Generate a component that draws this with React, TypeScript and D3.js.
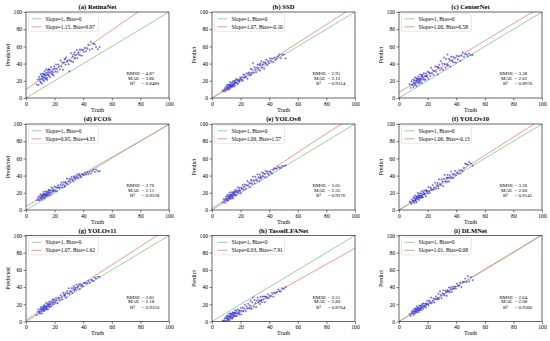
import React, { useEffect, useRef } from "react";
import * as d3 from "d3";

// shared ground-truth counts (same test images for every model)
const truth = [
  7.5, 8.2, 8.8, 9.1, 9.5, 9.9, 10.2, 10.4, 10.7, 10.9,
  11.1, 11.3, 11.5, 11.8, 12.0, 12.2, 12.4, 12.6, 12.9, 13.1,
  13.3, 13.5, 13.8, 14.0, 14.2, 14.5, 14.7, 14.9, 15.2, 15.4,
  15.7, 15.9, 16.2, 16.5, 16.8, 17.1, 17.4, 17.8, 18.1, 18.5,
  18.9, 19.3, 19.7, 20.1, 20.6, 21.0, 21.5, 22.0, 22.5, 23.0,
  23.6, 24.2, 24.8, 25.3, 25.9, 26.5, 27.0, 27.6, 28.1, 28.7,
  29.2, 29.8, 30.3, 30.9, 31.4, 31.9, 32.5, 33.0, 33.5, 34.0,
  34.5, 35.0, 35.5, 36.0, 36.5, 37.0, 37.5, 38.0, 38.6, 39.2,
  39.8, 40.5, 41.2, 42.0, 42.8, 43.6, 44.5, 45.4, 46.3, 47.2,
  48.1, 49.0, 50.2, 51.5, 12.7, 14.3, 16.0, 19.0, 27.3, 33.8,
];

const predRetinaNet = [
  15.6, 21.4, 15.1, 24.5, 21.9, 19.4, 27.7, 18.0, 22.3, 25.5,
  16.8, 25.0, 28.2, 22.6, 20.8, 28.0, 24.3, 19.5, 26.8, 31.1,
  23.3, 26.5, 21.9, 29.1, 33.3, 23.7, 26.9, 21.1, 29.5, 31.7,
  27.0, 33.3, 25.6, 30.0, 24.3, 32.6, 36.0, 28.4, 30.8, 27.2,
  33.7, 26.2, 36.6, 34.1, 30.7, 39.1, 33.7, 30.3, 38.8, 36.4,
  33.1, 43.8, 36.5, 41.1, 32.8, 41.5, 45.0, 38.7, 47.3, 42.0,
  43.6, 39.2, 31.0, 43.5, 52.1, 42.7, 48.4, 41.9, 50.5, 53.1,
  46.6, 50.2, 55.8, 46.4, 53.0, 50.5, 56.1, 49.7, 56.4, 49.1,
  55.8, 53.6, 58.4, 54.3, 57.2, 62.1, 56.2, 65.2, 57.2, 63.3,
  62.3, 59.3, 56.7, 59.2, 27.6, 22.4, 33.4, 29.8, 45.4, 45.9,
];
const predSSD = [
  8.9, 7.7, 11.3, 9.6, 8.1, 13.5, 11.8, 10.0, 15.3, 11.6,
  9.8, 13.0, 15.2, 11.5, 14.7, 10.0, 13.2, 18.4, 14.7, 11.9,
  16.1, 13.3, 14.7, 17.9, 13.1, 16.4, 19.6, 14.8, 16.2, 13.4,
  18.7, 17.9, 15.2, 20.6, 17.9, 22.2, 17.5, 20.9, 16.3, 20.7,
  20.1, 18.6, 24.0, 22.4, 21.0, 24.4, 19.9, 27.4, 24.0, 26.5,
  24.2, 28.8, 22.4, 28.0, 29.6, 26.3, 33.8, 29.4, 33.0, 40.6,
  29.1, 35.8, 33.3, 30.0, 35.5, 39.0, 33.7, 38.2, 31.7, 38.3,
  42.8, 35.4, 38.9, 41.4, 34.0, 41.5, 40.0, 44.6, 38.2, 42.8,
  40.5, 46.2, 43.0, 45.8, 41.7, 46.6, 44.5, 46.5, 48.4, 50.4,
  46.4, 50.3, 50.6, 46.0, 15.5, 14.2, 20.0, 21.2, 27.1, 40.1,
];
const predCenterNet = [
  16.1, 11.8, 19.4, 15.7, 15.1, 21.5, 12.8, 18.0, 20.3, 15.5,
  17.7, 23.9, 15.1, 20.4, 17.6, 22.8, 14.0, 20.2, 22.5, 19.7,
  17.9, 25.1, 21.4, 16.6, 22.8, 21.1, 27.3, 18.5, 22.8, 21.0,
  25.3, 17.5, 24.8, 27.1, 21.4, 23.7, 29.0, 21.4, 25.7, 21.1,
  28.5, 25.9, 24.3, 30.7, 22.2, 29.6, 29.1, 25.6, 35.1, 28.6,
  32.2, 26.8, 31.4, 36.9, 30.5, 36.1, 27.6, 35.2, 38.7, 32.3,
  42.8, 34.4, 39.9, 32.5, 47.0, 39.5, 35.1, 45.6, 39.1, 50.6,
  38.1, 45.6, 44.1, 36.6, 48.1, 43.6, 42.1, 47.6, 41.2, 46.8,
  41.4, 49.1, 44.8, 48.6, 43.4, 49.2, 53.1, 48.0, 50.9, 50.8,
  48.7, 51.6, 49.8, 50.1, 22.3, 18.9, 26.6, 25.6, 35.9, 37.4,
];
const predFCOS = [
  11.4, 14.1, 11.7, 16.0, 11.3, 14.7, 18.0, 13.2, 14.5, 16.7,
  11.8, 16.0, 18.2, 15.5, 13.7, 17.9, 21.1, 15.3, 17.6, 13.7,
  18.9, 17.1, 21.4, 15.6, 18.8, 21.1, 17.3, 18.5, 20.7, 16.9,
  23.2, 20.4, 18.7, 23.0, 17.3, 20.5, 22.8, 26.2, 19.5, 22.9,
  25.3, 21.6, 23.0, 27.4, 21.9, 26.3, 21.7, 26.2, 28.7, 26.2,
  25.7, 29.3, 31.9, 26.3, 29.9, 32.5, 27.0, 32.5, 31.0, 36.6,
  30.0, 33.6, 36.1, 32.7, 36.1, 38.6, 35.2, 33.7, 39.1, 37.6,
  36.1, 39.6, 38.0, 41.5, 37.0, 40.5, 41.9, 39.4, 38.0, 41.5,
  41.1, 40.8, 43.4, 41.2, 44.0, 41.7, 44.6, 42.4, 45.3, 47.1,
  44.0, 46.9, 45.0, 45.2, 18.4, 16.9, 22.5, 22.4, 28.2, 37.4,
];
const predYOLOv8 = [
  8.8, 12.5, 11.2, 8.5, 13.0, 15.4, 10.7, 12.9, 17.3, 12.5,
  15.7, 10.9, 15.1, 14.5, 17.7, 12.9, 20.1, 14.3, 15.7, 17.9,
  13.1, 17.3, 20.6, 14.9, 17.1, 19.4, 13.6, 20.8, 19.2, 17.4,
  18.7, 21.9, 17.3, 23.6, 20.9, 17.2, 22.6, 21.0, 26.3, 19.8,
  23.2, 25.6, 22.1, 19.5, 26.0, 24.5, 29.0, 23.6, 27.1, 29.7,
  24.3, 29.0, 33.6, 28.2, 31.8, 26.5, 31.0, 34.7, 30.2, 38.9,
  34.4, 31.1, 38.6, 35.3, 33.8, 41.4, 38.0, 33.6, 41.1, 38.7,
  37.2, 43.8, 39.3, 42.8, 38.4, 41.9, 45.5, 38.0, 44.7, 42.3,
  41.0, 44.7, 43.5, 42.4, 46.3, 48.1, 48.1, 48.1, 50.1, 49.1,
  49.0, 51.0, 51.3, 51.7, 16.4, 16.2, 21.0, 22.3, 34.4, 36.4,
];
const predYOLOv10 = [
  9.9, 8.6, 7.2, 12.5, 11.0, 9.4, 14.7, 10.9, 8.2, 13.5,
  16.7, 10.9, 13.1, 10.4, 15.6, 12.8, 9.0, 15.3, 14.6, 19.8,
  13.0, 17.2, 14.5, 11.7, 17.0, 19.3, 14.5, 16.7, 14.0, 19.2,
  16.5, 21.8, 15.1, 18.4, 14.7, 20.0, 22.3, 17.8, 19.1, 22.5,
  15.9, 22.4, 21.8, 19.2, 26.7, 22.2, 19.7, 26.2, 24.7, 23.3,
  28.9, 23.6, 26.2, 31.7, 24.4, 29.0, 31.5, 25.2, 35.7, 30.3,
  28.9, 35.5, 33.0, 27.7, 36.2, 40.7, 33.4, 36.9, 32.4, 40.9,
  37.5, 33.0, 40.5, 38.1, 44.6, 37.1, 41.6, 37.2, 41.8, 45.5,
  40.1, 43.8, 42.6, 46.4, 42.3, 46.1, 45.1, 49.0, 54.0, 52.9,
  52.9, 55.8, 54.1, 51.5, 15.4, 15.1, 14.9, 23.0, 27.8, 37.7,
];
const predYOLOv11 = [
  7.6, 11.4, 14.0, 10.3, 11.8, 9.2, 14.5, 16.7, 12.0, 14.3,
  9.5, 15.7, 13.9, 17.2, 12.4, 15.7, 13.9, 19.1, 12.4, 15.6,
  17.8, 14.0, 17.4, 21.6, 15.8, 14.1, 19.3, 17.5, 20.9, 14.1,
  19.4, 17.6, 22.9, 17.3, 21.6, 19.9, 17.2, 23.6, 22.0, 19.4,
  25.8, 22.3, 20.7, 25.1, 22.7, 27.1, 24.6, 21.1, 27.7, 27.2,
  24.9, 30.5, 28.1, 25.7, 33.3, 31.0, 29.5, 33.1, 27.7, 35.3,
  32.8, 38.5, 32.0, 35.7, 34.2, 38.7, 33.4, 38.9, 41.4, 37.0,
  39.5, 37.1, 42.6, 39.1, 40.7, 43.2, 37.7, 43.3, 40.9, 42.5,
  41.2, 44.9, 44.7, 44.5, 44.4, 47.3, 45.2, 48.2, 48.1, 47.1,
  51.1, 50.0, 52.3, 51.7, 17.2, 15.9, 19.7, 24.9, 30.8, 35.8,
];
const predTasselLFANet = [
  1.1, 0.7, 3.3, 0.6, 4.9, 0.3, 3.6, 6.8, 3.1, 5.2,
  1.4, 6.6, 2.8, 5.1, 9.3, 1.4, 6.6, 4.8, 9.1, 3.3,
  6.5, 8.7, 4.9, 8.1, 3.3, 10.6, 6.8, 5.0, 10.2, 8.4,
  6.7, 9.9, 13.2, 6.4, 9.7, 12.0, 6.3, 9.7, 13.9, 9.3,
  12.7, 8.0, 12.4, 15.8, 8.3, 12.6, 16.1, 11.6, 15.0, 19.5,
  12.0, 17.6, 15.2, 20.6, 15.2, 18.7, 24.2, 14.8, 22.2, 27.8,
  17.3, 24.8, 21.3, 16.8, 24.3, 27.8, 22.3, 24.8, 20.3, 28.7,
  25.2, 22.6, 29.1, 25.6, 29.0, 22.5, 29.0, 28.4, 27.0, 31.6,
  27.1, 29.8, 29.4, 33.2, 28.9, 33.6, 32.5, 34.3, 37.2, 35.0,
  34.8, 38.7, 37.8, 40.0, 5.9, 9.4, 10.0, 10.8, 15.5, 23.5,
];
const predDLMNet = [
  8.7, 6.4, 11.0, 9.3, 12.7, 9.1, 11.4, 7.6, 12.9, 15.1,
  11.3, 9.5, 14.7, 13.0, 11.2, 14.4, 17.6, 10.8, 13.1, 16.3,
  12.5, 15.7, 11.0, 15.2, 18.4, 14.7, 12.9, 18.1, 16.5, 14.7,
  18.0, 16.2, 13.5, 20.8, 18.1, 15.4, 20.7, 18.1, 17.4, 20.8,
  16.2, 20.6, 24.0, 20.4, 18.9, 24.3, 22.8, 21.3, 27.8, 21.3,
  23.9, 26.5, 22.1, 26.7, 29.3, 25.9, 27.4, 32.0, 26.5, 35.1,
  30.6, 27.2, 32.7, 36.3, 31.8, 30.3, 35.9, 34.4, 29.9, 36.4,
  34.9, 39.5, 34.0, 37.5, 40.0, 34.5, 38.0, 40.5, 38.1, 40.7,
  38.3, 44.0, 41.7, 41.5, 45.3, 40.1, 46.0, 46.0, 49.9, 45.8,
  52.7, 46.6, 51.8, 48.1, 14.9, 13.5, 19.3, 19.3, 25.7, 35.2,
];

const titles = [
  "(a) RetinaNet", "(b) SSD", "(c) CenterNet",
  "(d) FCOS", "(e) YOLOv8", "(f) YOLOv10",
  "(g) YOLOv11", "(h) TasselLFANet", "(i) DLMNet",
];
const yLabels = [
  "Predicted", "Predict", "Predict",
  "Predicted", "Predict", "Predict",
  "Predicted", "Predict", "Predict",
];
const predictions = [
  predRetinaNet, predSSD, predCenterNet,
  predFCOS, predYOLOv8, predYOLOv10,
  predYOLOv11, predTasselLFANet, predDLMNet,
];
const slopes = [1.15, 1.07, 1.0, 0.95, 1.09, 1.06, 1.07, 0.93, 1.01];
const biases = [9.97, -0.1, 6.58, 4.33, 1.57, -0.13, 1.62, -7.91, 0.08];
const rmse = ["4.87", "2.91", "3.38", "2.76", "3.05", "3.26", "2.81", "3.51", "2.64"];
const mae = ["3.86", "2.12", "2.62", "2.11", "2.35", "2.60", "2.18", "2.80", "2.08"];
const r2 = ["0.8480", "0.9314", "0.8976", "0.9228", "0.9276", "0.9141", "0.9350", "0.8764", "0.9366"];
const ticks = [0, 20, 40, 60, 80, 100];

const FONT = "'Liberation Serif', 'Times New Roman', serif";
const GREEN = "#86c486";
const RED = "#e87f7f";
const BLUE = "#3535d6";

const App: React.FC = () => {
  const svgRef = useRef<SVGSVGElement | null>(null);

  useEffect(() => {
    if (!svgRef.current) return;
    const svg = d3.select(svgRef.current);
    svg.selectAll("*").remove();

    const w = 143;
    const h = 86;
    const colX = [26, 212, 399];
    const rowY = [12, 124, 235.5];

    predictions.forEach((pred, i) => {
      const g = svg
        .append("g")
        .attr("transform", `translate(${colX[i % 3]},${rowY[Math.floor(i / 3)]})`);

      const x = d3.scaleLinear().domain([0, 100]).range([0, w]);
      const y = d3.scaleLinear().domain([0, 100]).range([h, 0]);

      const clipId = `clip${i}`;
      g.append("clipPath").attr("id", clipId)
        .append("rect").attr("width", w).attr("height", h);

      const plot = g.append("g").attr("clip-path", `url(#${clipId})`);
      const line = d3.line<number>().x(d => x(d)).y(d => y(d));
      const fit = d3.line<number>().x(d => x(d)).y(d => y(slopes[i] * d + biases[i]));

      plot.append("path").datum([0, 100]).attr("d", line)
        .attr("stroke", GREEN).attr("stroke-width", 0.8).attr("fill", "none");
      plot.append("path").datum([0, 100]).attr("d", fit)
        .attr("stroke", RED).attr("stroke-width", 0.8).attr("fill", "none");

      const pts = truth.map((t, k) => [t, pred[k]] as [number, number]);
      plot.selectAll("path.pt")
        .data(pts)
        .enter()
        .append("path")
        .attr("class", "pt")
        .attr("d", d => {
          const cx = x(d[0]);
          const cy = y(d[1]);
          return `M${cx - 1.1},${cy}H${cx + 1.1}M${cx},${cy - 1.1}V${cy + 1.1}`;
        })
        .attr("stroke", BLUE)
        .attr("stroke-width", 0.55);

      // axes
      const xAxis = g.append("g")
        .attr("transform", `translate(0,${h})`)
        .call(d3.axisBottom(x).tickValues(ticks).tickSize(2.5).tickSizeOuter(0).tickPadding(1.5));
      const yAxis = g.append("g")
        .call(d3.axisLeft(y).tickValues(ticks).tickSize(2.5).tickSizeOuter(0).tickPadding(1.5));
      [xAxis, yAxis].forEach(a => {
        a.select(".domain").remove();
        a.selectAll("line").attr("stroke", "#000").attr("stroke-width", 0.5);
        a.selectAll("text")
          .attr("font-family", FONT)
          .attr("font-size", 5.6)
          .attr("fill", "#000");
      });

      g.append("rect")
        .attr("width", w).attr("height", h)
        .attr("fill", "none").attr("stroke", "#000").attr("stroke-width", 0.6);

      // title and axis labels
      g.append("text")
        .attr("x", w / 2).attr("y", -3)
        .attr("text-anchor", "middle")
        .attr("font-family", FONT).attr("font-weight", "bold").attr("font-size", 6.6)
        .text(titles[i]);
      g.append("text")
        .attr("x", w / 2).attr("y", h + 13.5)
        .attr("text-anchor", "middle")
        .attr("font-family", FONT).attr("font-size", 6)
        .text("Truth");
      g.append("text")
        .attr("transform", `translate(${-16.5},${h / 2}) rotate(-90)`)
        .attr("text-anchor", "middle")
        .attr("font-family", FONT).attr("font-size", 6)
        .text(yLabels[i]);

      // legend
      const lg = g.append("g").attr("transform", "translate(2.5,1.8)");
      lg.append("rect")
        .attr("width", 70).attr("height", 17.5).attr("rx", 1.5)
        .attr("fill", "#fff").attr("fill-opacity", 0.8)
        .attr("stroke", "#d0d0d0").attr("stroke-width", 0.5);
      const entries = [
        { c: GREEN, t: "Slope=1, Bias=0" },
        { c: RED, t: `Slope=${slopes[i].toFixed(2)}, Bias=${biases[i].toFixed(2)}` },
      ];
      entries.forEach((e, k) => {
        const yy = 5 + k * 8;
        lg.append("line")
          .attr("x1", 3).attr("x2", 13).attr("y1", yy).attr("y2", yy)
          .attr("stroke", e.c).attr("stroke-width", 0.8);
        lg.append("text")
          .attr("x", 17).attr("y", yy + 1.9)
          .attr("font-family", FONT).attr("font-size", 5.4)
          .text(e.t);
      });

      // metrics
      const stats = [
        { l: "RMSE", v: rmse[i], lx: 100.5, vx: 115.5, yy: 63 },
        { l: "MAE", v: mae[i], lx: 102, vx: 115.5, yy: 67.8 },
        { l: "R²", v: r2[i], lx: 104, vx: 115.5, yy: 73 },
      ];
      stats.forEach(s => {
        g.append("text")
          .attr("x", s.lx).attr("y", s.yy)
          .attr("font-family", FONT).attr("font-size", 5)
          .text(s.l);
        g.append("text")
          .attr("x", s.vx).attr("y", s.yy)
          .attr("font-family", FONT).attr("font-size", 5)
          .text(`= ${s.v}`);
      });
    });
  }, []);

  return (
    <svg
      ref={svgRef}
      width={550}
      height={341}
      style={{ position: "absolute", left: 0, top: 0, background: "#fff" }}
    />
  );
};

export default App;
